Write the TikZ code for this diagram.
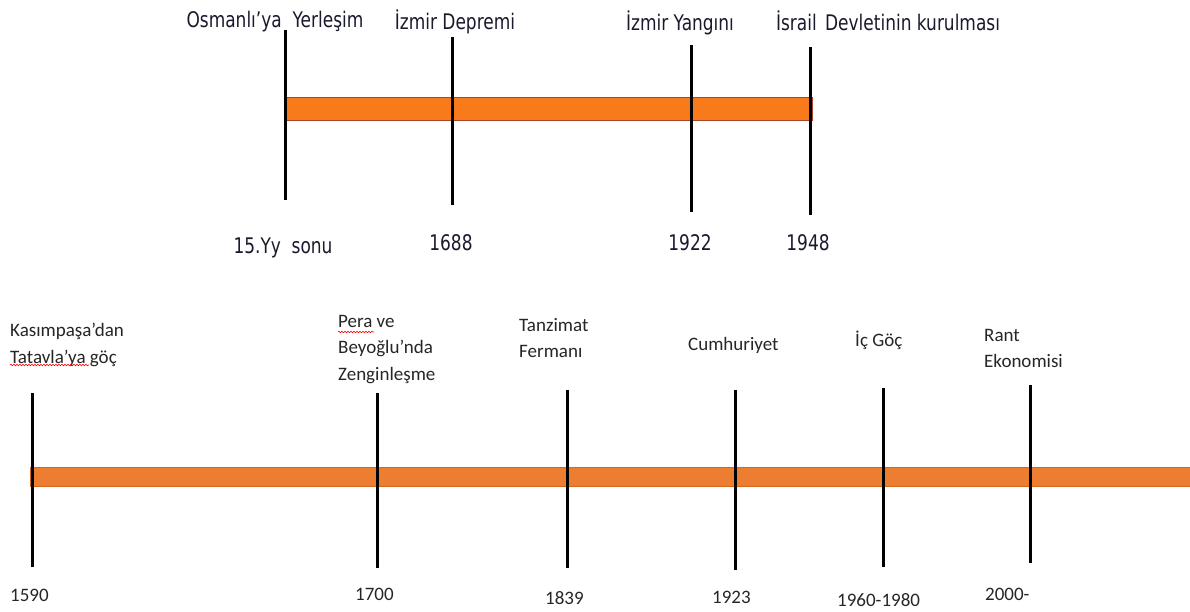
\documentclass[tikz,border=0pt]{standalone}
\usepackage{fontspec}
\setmainfont{Carlito}
\newfontfamily\topfont[FakeStretch=0.79]{DejaVu Sans}
\usetikzlibrary{decorations.pathmorphing}
\definecolor{topor}{HTML}{F97A1A}
\definecolor{topedge}{HTML}{A8442A}
\definecolor{botor}{HTML}{ED7D31}
\definecolor{botedge}{HTML}{D2691F}
\definecolor{toptext}{HTML}{1A1A2E}
\definecolor{bottext}{HTML}{262626}
\begin{document}
\begin{tikzpicture}[x=1pt,y=-1pt,
  tick/.style={line width=3pt,black},
  toplbl/.style={font=\topfont\fontsize{21.5}{25}\selectfont, text=toptext, inner sep=0pt, anchor=base},
  botlbl/.style={font=\fontsize{19}{26.5}\selectfont, text=bottext, inner sep=0pt, anchor=north west, align=left},
  botdate/.style={font=\fontsize{19}{26}\selectfont, text=bottext, inner sep=0pt, anchor=base west},
  spell/.style={red, line width=0.6pt, decorate, decoration={snake, amplitude=0.8pt, segment length=3pt}}]
\useasboundingbox (0,0) rectangle (1190,611);
\fill[white] (0,0) rectangle (1190,611);

% ---------- top timeline ----------
\draw[fill=topor, draw=topedge, line width=1pt] (285,97) rectangle (812,120);
\coordinate (t1a) at (285,30);  \coordinate (t1b) at (285,200);
\coordinate (t2a) at (452,37);  \coordinate (t2b) at (452,205);
\coordinate (t3a) at (691,45);  \coordinate (t3b) at (691,212);
\coordinate (t4a) at (810,47);  \coordinate (t4b) at (810,215);
\draw[tick] (t1a) -- (t1b);
\draw[tick] (t2a) -- (t2b);
\draw[tick] (t3a) -- (t3b);
\draw[tick] (t4a) -- (t4b);

\node[toplbl] (l1) at (275,27) {Osmanlı’ya~ Yerleşim};
\node[toplbl] (l2) at (455,29) {İzmir Depremi};
\node[toplbl] (l3) at (680,30) {İzmir Yangını};
\node[toplbl] (l4) at (888,30) {İsrail\hspace{3pt} Devletinin kurulması};

\node[toplbl] (d1) at (283,253) {15.Yy~ sonu};
\node[toplbl] (d2) at (451,250) {1688};
\node[toplbl] (d3) at (690,250) {1922};
\node[toplbl] (d4) at (808,250) {1948};

% ---------- bottom timeline ----------
\draw[fill=botor, draw=botedge, line width=1pt] (30,467) rectangle (1195,486);
\coordinate (b1a) at (32,393);   \coordinate (b1b) at (32,567);
\coordinate (b2a) at (377,393);  \coordinate (b2b) at (377,568);
\coordinate (b3a) at (567,390);  \coordinate (b3b) at (567,568);
\coordinate (b4a) at (735,390);  \coordinate (b4b) at (735,570);
\coordinate (b5a) at (883,388);  \coordinate (b5b) at (883,567);
\coordinate (b6a) at (1030,385); \coordinate (b6b) at (1030,563);
\draw[tick] (b1a) -- (b1b);
\draw[tick] (b2a) -- (b2b);
\draw[tick] (b3a) -- (b3b);
\draw[tick] (b4a) -- (b4b);
\draw[tick] (b5a) -- (b5b);
\draw[tick] (b6a) -- (b6b);

\node[botlbl] (e1) at (10,323) {Kasımpaşa’dan\\Tatavla’ya göç};
\node[botlbl] (e2) at (338,315) {Pera ve\\Beyoğlu’nda\\Zenginleşme};
\node[botlbl] (e3) at (519,318) {Tanzimat\\Fermanı};
\node[botlbl] (e4) at (688,337) {Cumhuriyet};
\node[botlbl] (e5) at (855,331) {İç Göç};
\node[botlbl] (e6) at (984,329) {Rant\\Ekonomisi};

\coordinate (s1a) at (10,365);  \coordinate (s1b) at (89,365);
\coordinate (s2a) at (338,332); \coordinate (s2b) at (374,332);
\draw[spell] (s1a) -- (s1b);
\draw[spell] (s2a) -- (s2b);

\node[botdate] (f1) at (10,601) {1590};
\node[botdate] (f2) at (355,600) {1700};
\node[botdate] (f3) at (545,604) {1839};
\node[botdate] (f4) at (712,603) {1923};
\node[botdate] (f5) at (837,606) {1960-1980};
\node[botdate] (f6) at (985,600) {2000-};
\end{tikzpicture}
\end{document}
